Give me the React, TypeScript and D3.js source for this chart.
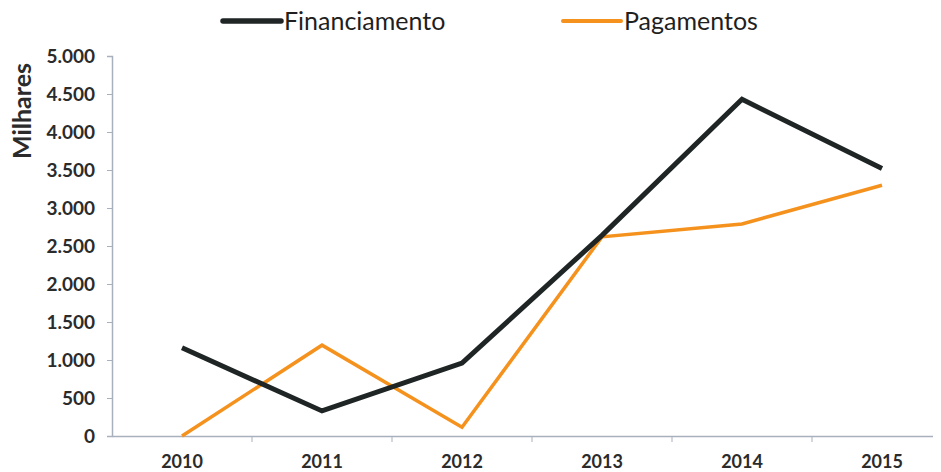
import { useEffect, useRef } from 'react';
import * as d3 from 'd3';

const years = ['2010', '2011', '2012', '2013', '2014', '2015'];
const financiamento = [1160, 330, 960, 2640, 4430, 3520];
const pagamentos = [0, 1195, 115, 2620, 2790, 3300];
const yTicks = [0, 500, 1000, 1500, 2000, 2500, 3000, 3500, 4000, 4500, 5000];

const fmt = (v: number) => d3.format(',')(v).replace(/,/g, '.');

export default function App() {
  const svgRef = useRef<SVGSVGElement>(null);

  useEffect(() => {
    const width = 941;
    const height = 472;
    const margin = { top: 56, left: 112, bottom: 36 };

    const svg = d3.select(svgRef.current);
    svg.selectAll('*').remove();
    svg.attr('width', width).attr('height', height);

    const font = 'Lato, "Open Sans", sans-serif';

    // Scales
    const x = d3.scaleBand<string>()
      .domain(years)
      .range([margin.left, margin.left + 140 * years.length]);

    const y = d3.scaleLinear()
      .domain([0, 5000])
      .range([height - margin.bottom, margin.top]);

    // Y axis
    const yAxis = svg.append('g')
      .attr('transform', `translate(${margin.left},0)`)
      .call(d3.axisLeft(y).tickValues(yTicks).tickFormat(d => fmt(+d)).tickSize(5).tickPadding(12));
    yAxis.select('.domain').attr('stroke', '#a9b0bd').attr('stroke-width', 1.5);
    yAxis.selectAll('.tick line').attr('stroke', '#a9b0bd');
    yAxis.selectAll('.tick text')
      .attr('fill', '#2b2b2b')
      .style('font-family', font)
      .style('font-size', '19px')
      .style('font-weight', 'bold');

    // X axis
    const xAxis = svg.append('g')
      .attr('transform', `translate(0,${y(0)})`)
      .call(d3.axisBottom(x).tickSize(0).tickPadding(19));
    xAxis.select('.domain').attr('stroke', '#a9b0bd').attr('stroke-width', 1.5);
    xAxis.selectAll('.tick text')
      .attr('fill', '#2b2b2b')
      .style('font-family', font)
      .style('font-size', '18px')
      .style('font-weight', 'bold');

    // category boundary ticks
    svg.append('g')
      .selectAll('line')
      .data(years.slice(1))
      .join('line')
      .attr('x1', d => x(d)!)
      .attr('x2', d => x(d)!)
      .attr('y1', y(0))
      .attr('y2', y(0) + 6)
      .attr('stroke', '#a9b0bd');

    // Y label
    svg.append('text')
      .attr('transform', `translate(22,${111}) rotate(-90)`)
      .attr('text-anchor', 'middle')
      .attr('dy', '0.35em')
      .attr('fill', '#2b2b2b')
      .style('font-family', font)
      .style('font-size', '25px')
      .style('font-weight', 'bold')
      .text('Milhares');

    const cx = (d: string) => x(d)! + x.bandwidth() / 2;

    // Lines
    const series = [
      { name: 'Financiamento', values: financiamento, color: '#1f2525', w: 5 },
      { name: 'Pagamentos', values: pagamentos, color: '#f5921e', w: 3.5 },
    ];

    series.slice().reverse().forEach(s => {
      const line = d3.line<number>()
        .x((_, i) => cx(years[i]))
        .y(v => y(v));
      svg.append('path')
        .datum(s.values)
        .attr('d', line)
        .attr('fill', 'none')
        .attr('stroke', s.color)
        .attr('stroke-width', s.w)
        .attr('stroke-linejoin', 'miter');
    });

    // Legend
    const legendPos = [223, 563];
    series.forEach((s, i) => {
      const g = svg.append('g').attr('transform', `translate(${legendPos[i]},21)`);
      g.append('line')
        .attr('x1', 0).attr('x2', 58)
        .attr('y1', 0).attr('y2', 0)
        .attr('stroke', s.color)
        .attr('stroke-width', s.w + 0.5)
        .attr('stroke-linecap', 'round');
      g.append('text')
        .attr('x', 61)
        .attr('y', 0)
        .attr('dy', '0.35em')
        .attr('fill', '#1f1f1f')
        .style('font-family', font)
        .style('font-size', '25px')
        .text(s.name);
    });
  }, []);

  return (
    <div style={{ margin: -8 }}>
      <svg ref={svgRef}></svg>
    </div>
  );
}
